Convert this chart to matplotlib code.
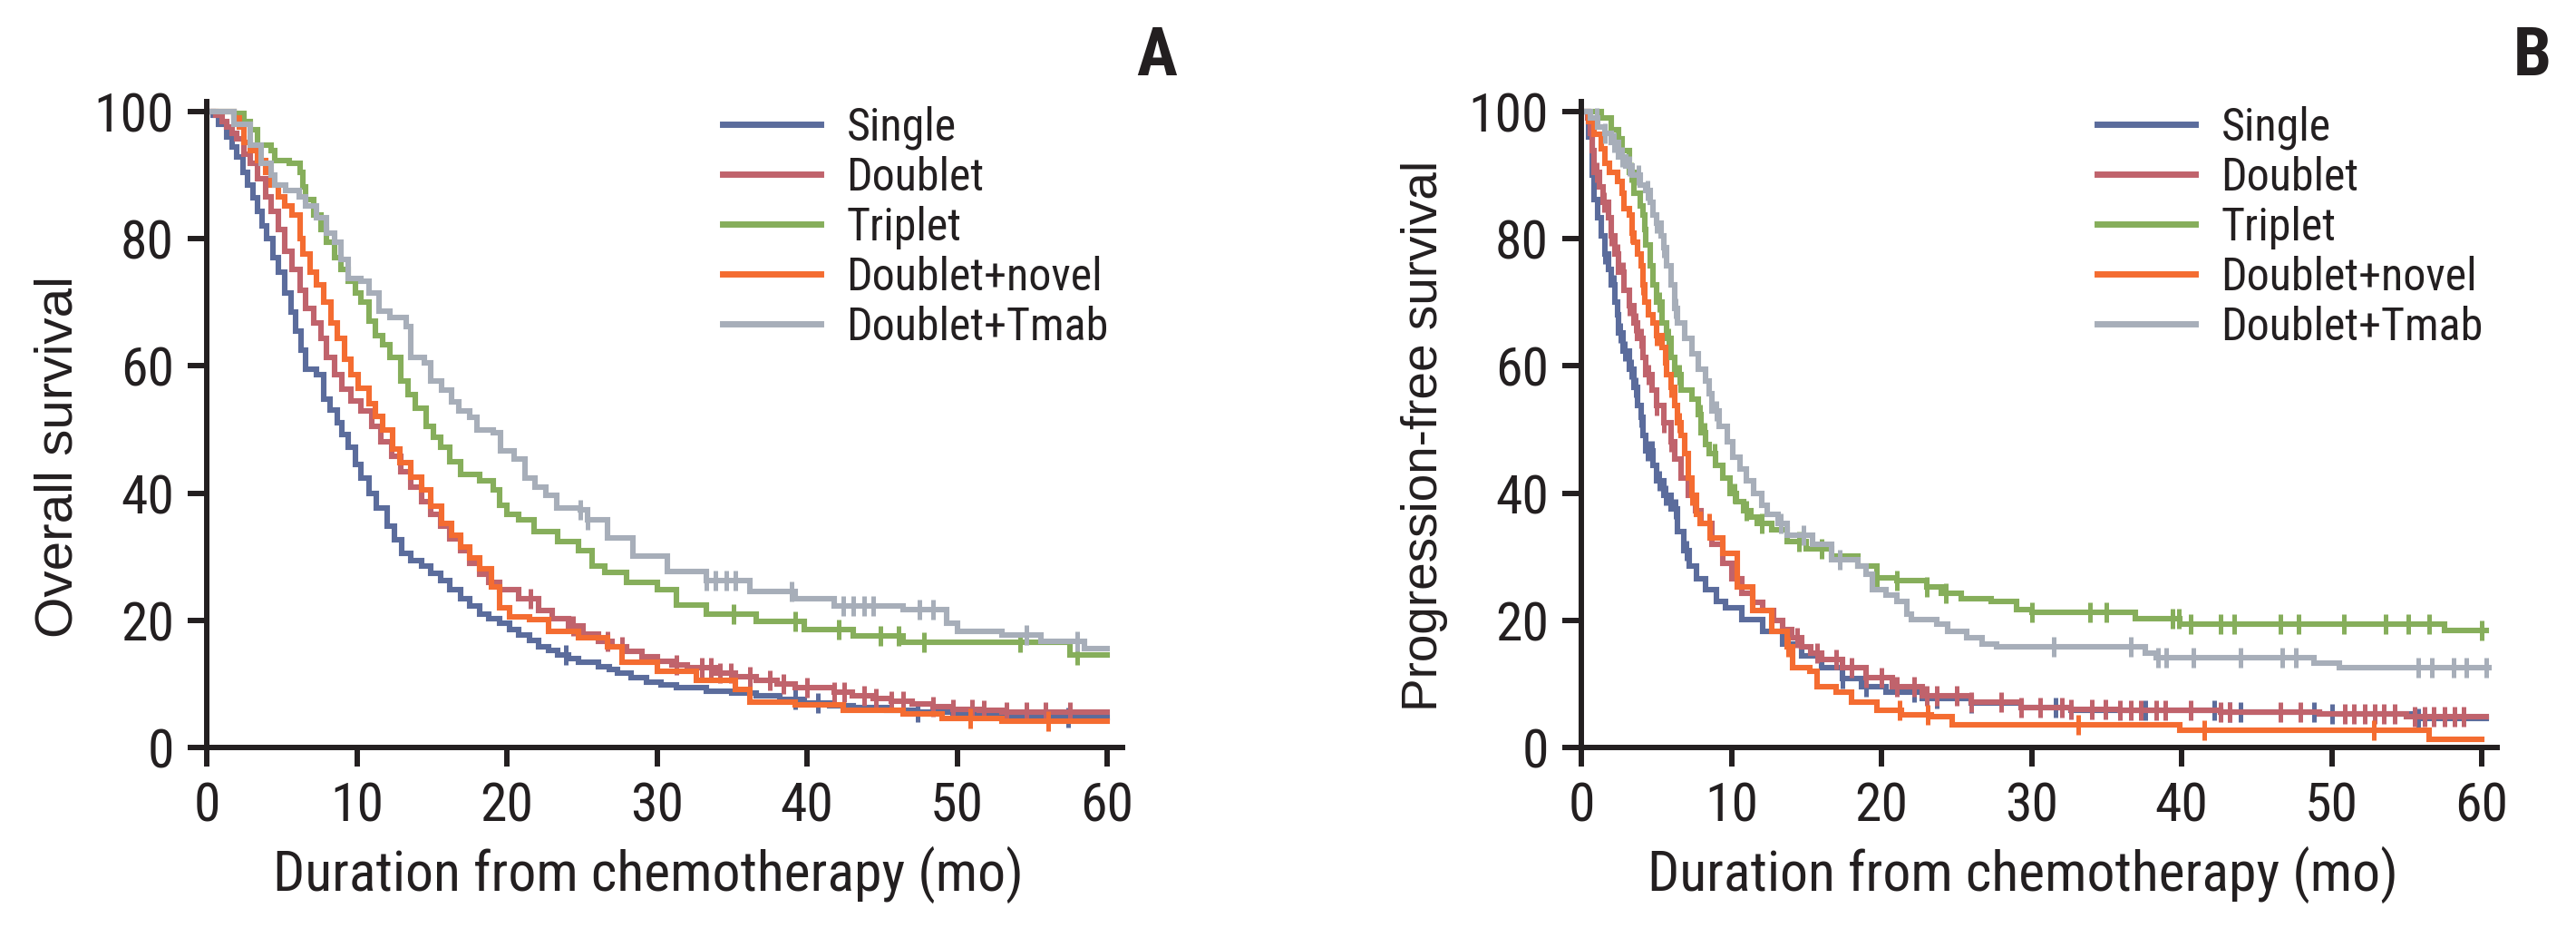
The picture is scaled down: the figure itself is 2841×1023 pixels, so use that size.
import numpy as np
import matplotlib
matplotlib.use("Agg")
import matplotlib.pyplot as plt
from matplotlib import font_manager

# fonts: narrow sans for ticks/legend, regular sans for y labels
fonts = font_manager.fontManager.ttflist
names = {f.name for f in fonts}
narrow, narrow_stretch = None, 'normal'
for fam in ['Liberation Sans Narrow', 'Roboto Condensed', 'Noto Sans Condensed', 'Open Sans Condensed',
            'DejaVu Sans Condensed']:
    if fam in names:
        narrow = fam
        break
if narrow is None:
    for f in fonts:
        fn = f.fname.lower()
        if 'condensed' in fn and 'bold' not in fn and 'oblique' not in fn and 'italic' not in fn and 'mono' not in fn:
            narrow, narrow_stretch = f.name, f.stretch
            break
squeeze = 1.0
if narrow is None:
    narrow = 'DejaVu Sans'
    squeeze = 0.8
regular = 'Liberation Sans' if 'Liberation Sans' in names else 'DejaVu Sans'
plt.rcParams['font.family'] = [narrow, 'DejaVu Sans']
plt.rcParams['font.stretch'] = narrow_stretch

groups = ['Single', 'Doublet', 'Triplet', 'Doublet+novel', 'Doublet+Tmab']
colors = ['#5b6c9c', '#c0636c', '#86ae5b', '#f46c31', '#a7aeb9']
ink = '#231f20'

# ---- Panel A: overall survival (months, %) ----
os_single_t = [0, 0.4, 0.8, 1.3, 1.7, 2.0, 2.4, 2.7, 3.1, 3.4, 3.7, 4.0, 4.4, 4.8, 5.2, 5.6, 5.9, 6.3, 6.6, 7.3,
               7.8, 8.2, 8.7, 9.0, 9.4, 9.9, 10.3, 10.8, 11.3, 12.0, 12.5, 13.0, 13.6, 14.3, 14.9, 15.6, 16.2, 16.9,
               17.5, 18.2, 18.8, 19.5, 20.2, 20.8, 21.5, 22.1, 22.8, 23.4, 24.1, 24.8, 26.1, 26.8, 27.4, 28.3, 29.3,
               30.3, 31.3, 33.3, 35.0, 36.6, 38.2, 39.8, 41.5, 43.1, 45.3, 47.4, 49.7, 53.0, 60.0]
os_single_s = [100, 99.5, 98, 96, 94.5, 92.8, 90.5, 88.5, 86.5, 84.3, 82, 80, 77, 74.8, 71.5, 68.5, 65.5, 62.5, 59.5, 58.6,
               54.8, 53, 51, 49.2, 47.2, 44.5, 42.3, 40, 37.7, 34.8, 32.6, 30.5, 29.4, 28.6, 27.4, 26.2, 24.8, 23.4,
               22.2, 21.0, 20.2, 19.6, 18.6, 17.7, 16.8, 15.8, 15.2, 14.6, 14.0, 13.4, 12.7, 12.2, 11.7, 11.0, 10.3,
               9.8, 9.4, 8.9, 8.5, 8.2, 7.6, 7.0, 6.6, 6.3, 5.9, 5.6, 5.1, 4.7, 4.7]
os_doublet_t = [0, 0.6, 1.0, 1.3, 1.7, 2.0, 2.5, 2.9, 3.4, 3.9, 4.3, 4.8, 5.2, 5.7, 6.2, 6.6, 7.1, 7.6, 8.0, 8.5,
                9.0, 9.6, 10.3, 11.0, 11.6, 12.3, 12.95, 13.6, 14.3, 14.9, 15.6, 16.2, 16.9, 17.5, 18.2, 18.8, 19.5,
                20.8, 22.1, 23.0, 24.1, 25.1, 26.1, 27.0, 28.0, 29.0, 30.0, 31.0, 32.0, 33.9, 35.2, 36.6, 38.0, 39.2,
                41.8, 43.0, 44.4, 45.6, 47.0, 48.4, 49.7, 51.5, 53.0, 60.0]
os_doublet_s = [100, 99.5, 98.5, 97.6, 96.6, 95.7, 93.3, 91.9, 89.5, 86.6, 84.3, 81.4, 78.1, 75.2, 71.9, 69.0, 66.7, 64.3,
                61.4, 58.6, 56.3, 54.5, 52.9, 50.5, 48.1, 45.8, 43.4, 41.0, 38.6, 36.7, 34.8, 32.8, 31.0, 29.0, 27.2,
                26.0, 24.8, 23.4, 21.5, 20.3, 19.1, 17.9, 16.7, 15.8, 15.1, 14.3, 13.6, 13.0, 12.5, 11.7, 11.1, 10.6,
                10.0, 9.4, 8.7, 8.2, 7.7, 7.3, 6.8, 6.4, 6.0, 5.8, 5.5, 5.5]
os_triplet_t = [0, 1.8, 2.5, 2.9, 3.4, 4.3, 4.55, 5.5, 6.2, 6.4, 6.6, 7.1, 7.6, 8.0, 8.5, 8.95, 9.4, 9.9, 10.3, 10.8,
                11.25, 11.7, 12.2, 12.95, 13.4, 13.9, 14.6, 15.1, 15.6, 16.2, 16.9, 18.2, 19.1, 19.5, 20.0, 20.8, 21.8,
                23.4, 24.75, 25.7, 26.5, 28.0, 30.0, 31.3, 33.3, 36.6, 39.8, 43.1, 46.4, 57.5, 60.0]
os_triplet_s = [100, 99.7, 98.5, 97.1, 94.7, 93.8, 92.3, 91.9, 90.4, 88.1, 86.2, 83.8, 81.4, 79.5, 77.1, 75.2, 73.3, 71.4,
                70.0, 67.1, 64.8, 63.3, 61.4, 57.6, 55.5, 53.4, 50.5, 48.8, 47.2, 45.0, 42.9, 41.9, 40.5, 38.1, 36.7,
                35.8, 33.9, 32.4, 31.0, 28.6, 27.5, 26.0, 24.8, 22.4, 21.0, 19.8, 18.6, 17.5, 16.5, 14.6, 14.6]
os_novel_t = [0, 1.8, 2.2, 2.5, 2.9, 3.4, 3.9, 4.3, 4.8, 5.2, 5.7, 6.2, 6.4, 6.9, 7.3, 7.8, 8.25, 8.7, 9.2, 9.6,
              10.1, 10.8, 11.25, 11.7, 12.4, 12.9, 13.6, 14.3, 14.95, 15.65, 16.3, 16.9, 17.5, 18.2, 19.0, 19.5,
              20.2, 21.5, 22.8, 24.75, 26.7, 27.7, 30.0, 32.6, 35.2, 36.2, 39.2, 42.4, 46.4, 49.0, 53.0, 60.0]
os_novel_s = [100, 99, 97.6, 95.2, 93.8, 92.3, 90.4, 88.5, 86.6, 85.2, 83.8, 80.0, 77.6, 74.8, 72.8, 70.0, 66.7, 64.3,
              61.0, 58.6, 56.5, 54.0, 52.0, 50.0, 47.0, 44.8, 42.5, 40.5, 38.0, 35.3, 33.4, 31.5, 29.8, 28.1, 25.3,
              22.0, 20.5, 20.1, 18.2, 17.2, 15.8, 13.4, 12.0, 10.6, 9.1, 7.2, 6.75, 5.8, 5.3, 4.6, 4.1, 4.1]
os_tmab_t = [0, 1.8, 2.9, 3.6, 4.3, 4.55, 5.24, 6.17, 6.6, 7.3, 8.0, 8.5, 8.95, 9.4, 10.3, 10.8, 11.5, 12.2, 13.3,
             13.6, 14.5, 14.95, 15.65, 16.3, 16.8, 17.5, 18.0, 19.1, 19.6, 20.5, 21.2, 21.9, 22.6, 23.3, 24.9, 25.4,
             26.7, 28.4, 30.7, 33.3, 36.2, 39.2, 41.8, 46.4, 49.3, 50.0, 53.0, 55.6, 58.5, 60.0]
os_tmab_s = [100, 98, 94.7, 91.9, 90, 88.5, 87.6, 86.6, 85.2, 83.3, 80.9, 79.5, 76.7, 73.8, 73.3, 71.4, 68.6, 67.6, 66.2,
             61.4, 60.5, 57.6, 56.2, 54.3, 52.9, 51.9, 50.0, 49.5, 46.7, 45.3, 42.4, 41.0, 39.6, 37.7, 37.4, 35.8,
             32.9, 30.1, 27.7, 26.2, 24.6, 23.4, 22.2, 21.7, 19.6, 18.2, 17.7, 16.7, 15.5, 15.5]

os_cens_single = [23.9, 39.2, 40.7, 47.4, 57.4]
os_cens_doublet = [21.6, 24.4, 26.7, 27.7, 31.3, 33.0, 33.6, 34.2, 34.9, 36.2, 37.5, 38.4, 40.0, 41.8, 42.5, 43.8,
                   44.6, 45.6, 46.4, 48.4, 49.7, 51.0, 51.8, 53.3, 54.6, 55.9, 57.5]
os_cens_triplet = [35.1, 39.2, 42.1, 44.9, 46.1, 47.8, 54.2, 58.0]
os_cens_novel = [50.9, 56.1]
os_cens_tmab = [24.9, 25.4, 33.3, 33.9, 34.6, 35.2, 39.0, 42.4, 43.1, 43.8, 44.4, 47.5, 48.4, 54.6, 58.0]

# ---- Panel B: progression-free survival ----
pfs_single_t = [0, 0.5, 0.75, 0.86, 1.1, 1.3, 1.56, 1.79, 2.0, 2.25, 2.4, 2.5, 2.8, 3.2, 3.5, 3.76, 4.0, 4.1, 4.3,
                4.8, 5.0, 5.5, 6.0, 6.4, 6.8, 7.2, 7.7, 8.3, 9.0, 9.6, 10.7, 12.1, 13.4, 14.7, 16.0, 17.4, 18.7,
                20.3, 22.7, 26.0, 29.3, 32.6, 42.6, 49.2, 55.8, 60.3]
pfs_single_s = [100, 96, 90, 86.2, 83.3, 80.5, 77.6, 75.2, 72.8, 70.0, 68.1, 65.2, 62.4, 59.5, 56.7, 53.8, 51.9, 49.1,
                46.7, 44.3, 41.9, 39.6, 37.5, 34, 31, 28.5, 26.5, 24.8, 23, 22, 20.1, 18.2, 16.3, 14.4, 12.5, 10.8,
                9.6, 8.65, 7.7, 7.0, 6.3, 5.8, 5.6, 5.3, 4.6, 4.6]
pfs_doublet_t = [0, 0.4, 0.63, 0.75, 0.86, 1.2, 1.45, 1.8, 2.0, 2.25, 2.5, 2.85, 3.2, 3.5, 3.76, 4.1, 4.3, 4.7, 5.0,
                 5.5, 5.96, 6.2, 6.65, 7.1, 7.6, 8.0, 8.7, 9.4, 10.0, 10.7, 11.4, 12.1, 12.8, 13.4, 14.0, 14.7, 15.3,
                 16.0, 17.4, 19.0, 20.7, 22.7, 26.0, 29.3, 32.6, 35.9, 42.6, 49.2, 55.0, 60.3]
pfs_doublet_s = [100, 99, 96.6, 93.8, 90.4, 88.1, 85.7, 83.3, 80.5, 77.6, 74.8, 71.9, 69.5, 66.7, 64.3, 61.4, 58.6, 56.2,
                 53.8, 51.0, 48.1, 45.3, 42.4, 39.6, 37.2, 35.3, 32, 29, 26.5, 24.3, 22.8, 21.5, 20.0, 18.6, 17.2,
                 15.8, 14.8, 13.9, 12.5, 11.0, 9.6, 8.2, 7.2, 6.3, 6.0, 5.8, 5.6, 5.3, 4.85, 4.85]
pfs_triplet_t = [0, 0.63, 1.3, 2.0, 2.5, 2.7, 3.2, 3.5, 3.9, 4.1, 4.2, 4.3, 4.6, 4.8, 5.0, 5.4, 5.7, 5.96, 6.2, 6.65,
                 7.35, 7.8, 8.0, 8.3, 8.5, 8.97, 9.4, 9.9, 10.35, 10.8, 11.3, 11.7, 12.7, 13.7, 15.0, 16.7, 18.4,
                 19.7, 21.0, 23.0, 24.0, 25.3, 27.3, 29.0, 30.0, 36.9, 39.9, 57.5, 60.3]
pfs_triplet_s = [100, 100, 99.0, 97.1, 95.7, 93.8, 90.4, 87.1, 85.2, 83.8, 81.4, 79.0, 75.7, 72.8, 70.0, 66.7, 64.3,
                 61.4, 58.6, 56.2, 54.8, 52.4, 49.5, 47.6, 46.2, 44.3, 42.4, 40.0, 38.6, 37.2, 36.2, 35.3, 34.3,
                 32.4, 31.2, 30.1, 28.6, 26.7, 26.2, 25.3, 24.3, 23.4, 22.9, 21.7, 21.3, 20.3, 19.4, 18.4, 18.4]
pfs_novel_t = [0, 0.5, 0.86, 1.3, 1.56, 1.9, 2.4, 2.7, 2.85, 3.2, 3.4, 3.5, 3.76, 4.0, 4.1, 4.2, 4.45, 4.8, 5.0, 5.4,
               5.6, 5.7, 5.96, 6.2, 6.4, 6.65, 6.9, 7.1, 7.35, 7.7, 7.9, 8.6, 9.4, 10.4, 11.4, 12.7, 13.7, 14.05,
               15.2, 15.7, 17.0, 18.0, 19.7, 21.3, 23.3, 24.7, 39.9, 56.5, 60.0]
pfs_novel_s = [100, 98.5, 96.5, 94.2, 91.9, 90.4, 89.0, 87.1, 84.7, 83.8, 80.9, 79.5, 77.6, 75.7, 72.8, 70.0, 68.1,
               66.7, 64.8, 62.9, 60.5, 58.6, 56.7, 53.8, 51.0, 49.1, 46.2, 42.4, 39.6, 36.7, 35.3, 33, 30.5, 25.3,
               21.5, 18.2, 15.8, 12.5, 12.0, 9.6, 8.65, 7.2, 5.8, 5.1, 4.85, 3.5, 2.7, 1.3, 1.3]
pfs_tmab_t = [0, 0.63, 1.1, 1.56, 2.0, 2.5, 2.95, 3.4, 3.9, 4.3, 4.6, 4.8, 5.0, 5.3, 5.5, 5.7, 5.96, 6.2, 6.4, 6.9,
              7.35, 7.8, 8.3, 8.5, 8.7, 9.2, 9.7, 10.1, 10.6, 11.0, 11.5, 12.0, 12.4, 13.1, 13.7, 15.4, 16.7, 18.4,
              19.0, 19.4, 20.3, 21.0, 21.7, 22.0, 23.7, 24.4, 25.7, 26.7, 27.7, 37.6, 38.3, 48.8, 50.5, 60.5]
pfs_tmab_s = [100, 99.0, 97.6, 96.6, 95.2, 92.8, 91.4, 90.0, 88.5, 87.6, 85.7, 83.8, 82.4, 80.5, 78.6, 75.7, 72.8,
              69.0, 66.7, 64.3, 61.9, 59.5, 57.6, 55.7, 52.9, 50.5, 48.1, 45.7, 43.8, 41.9, 40.0, 38.1, 36.7, 35.3,
              33.4, 32.0, 29.6, 28.6, 27.2, 24.8, 23.9, 22.9, 21.0, 20.1, 19.4, 18.2, 17.2, 16.3, 15.8, 14.8, 14.1,
              13.2, 12.5, 12.5]

pfs_cens_single = [1.6, 2.2, 2.6, 2.9, 3.3, 3.6, 4.0, 4.4, 4.7, 5.2, 5.6, 6.3, 7.0, 17.4, 19.0, 22.2, 23.7, 26.0,
                   31.6, 37.6, 42.2, 43.2, 43.9, 48.8, 50.0, 55.8]
pfs_cens_doublet = [1.0, 1.5, 2.0, 2.4, 2.8, 3.2, 3.6, 4.0, 4.5, 5.0, 5.5, 6.0, 14.4, 15.7, 17.0, 18.0, 19.0, 20.0,
                    21.0, 22.2, 23.0, 23.7, 25.0, 26.0, 28.0, 29.3, 30.6, 32.0, 32.6, 34.0, 34.9, 35.9, 36.6, 37.3,
                    38.3, 38.9, 40.6, 42.6, 43.2, 46.6, 47.9, 50.9, 51.5, 52.2, 52.9, 53.5, 54.2, 55.5, 56.2, 56.8,
                    57.5, 58.2, 58.8]
pfs_cens_triplet = [2.5, 3.3, 4.2, 5.2, 5.8, 6.5, 7.9, 8.2, 8.9, 10.2, 11.0, 12.0, 14.5, 16.0, 19.7, 21.0, 23.0,
                    24.3, 30.0, 33.9, 35.0, 39.4, 39.8, 40.6, 42.6, 43.5, 46.6, 47.8, 50.8, 53.6, 55.1, 56.5, 60.0]
pfs_cens_novel = [3.4, 4.1, 5.0, 5.6, 6.0, 6.5, 7.4, 8.5, 13.8, 21.2, 23.1, 33.1, 41.5, 52.8]
pfs_cens_tmab = [1.0, 1.6, 2.2, 2.7, 3.2, 3.8, 4.4, 5.0, 5.5, 6.3, 9.0, 13.3, 14.8, 17.2, 31.5, 36.6, 38.4, 39.0,
                 40.8, 43.9, 46.7, 47.6, 55.8, 56.7, 58.1, 59.0, 60.3]

os_curves = [(os_single_t, os_single_s), (os_doublet_t, os_doublet_s), (os_triplet_t, os_triplet_s),
             (os_novel_t, os_novel_s), (os_tmab_t, os_tmab_s)]
os_cens = [os_cens_single, os_cens_doublet, os_cens_triplet, os_cens_novel, os_cens_tmab]
pfs_curves = [(pfs_single_t, pfs_single_s), (pfs_doublet_t, pfs_doublet_s), (pfs_triplet_t, pfs_triplet_s),
              (pfs_novel_t, pfs_novel_s), (pfs_tmab_t, pfs_tmab_s)]
pfs_cens = [pfs_cens_single, pfs_cens_doublet, pfs_cens_triplet, pfs_cens_novel, pfs_cens_tmab]

W, H = 2841, 1023
fig = plt.figure(figsize=(W / 100, H / 100), dpi=100)


def km_panel(ax, curves, cens, ylabel, ylab_size, ylab_x, ylab_y):
    lines = []
    for (t, s), c, col, name in zip(curves, cens, colors, groups):
        t = np.asarray(t, float)
        s = np.asarray(s, float)
        ln, = ax.step(t, s, where='post', color=col, lw=4.4, label=name, solid_joinstyle='miter')
        lines.append(ln)
        # censor marks sit on the curve
        idx = np.searchsorted(t, c, side='right') - 1
        ax.plot(c, s[idx], ls='none', marker='|', ms=16, mew=3.6, color=col)
    ax.set_xlim(0, 60 * 1010 / 993)
    ax.set_ylim(0, 100 * 712 / 701)
    ax.set_xticks(range(0, 61, 10))
    ax.set_yticks(range(0, 101, 20))
    for side in ['top', 'right']:
        ax.spines[side].set_visible(False)
    for side in ['left', 'bottom']:
        ax.spines[side].set_linewidth(4.3)
        ax.spines[side].set_color(ink)
    ax.tick_params(direction='out', length=15, width=4.3, color=ink, labelcolor=ink,
                   labelsize=43 * squeeze, pad=11)
    ax.set_xlabel('Duration from chemotherapy (mo)', fontsize=44.5 * squeeze, color=ink)
    ax.xaxis.set_label_coords(0.482, -0.153)
    ax.set_ylabel(ylabel, fontsize=ylab_size, color=ink, family=[regular, 'DejaVu Sans'], fontstretch='normal')
    ax.yaxis.set_label_coords(ylab_x, ylab_y)
    leg = ax.legend(handles=lines, loc='upper left', bbox_to_anchor=(0.5634, 0.994), frameon=False,
                    fontsize=36 * squeeze, handlelength=2.16 / squeeze, handletextpad=0.57 / squeeze,
                    labelspacing=0.14, borderpad=0, borderaxespad=0)
    for h in leg.get_lines():
        h.set_linewidth(5)
    for tx in leg.get_texts():
        tx.set_color(ink)


axA = fig.add_axes([228 / W, 1 - 824 / H, 1010 / W, 712 / H])
km_panel(axA, os_curves, os_cens, 'Overall survival', 42, -0.135, 0.45)
axB = fig.add_axes([1744 / W, 1 - 824 / H, 1010 / W, 712 / H])
km_panel(axB, pfs_curves, pfs_cens, 'Progression-free survival', 39.5, -0.146, 0.483)

fig.text(1276 / W, 1 - 83 / H, 'A', fontsize=54, fontweight='bold', ha='center', va='baseline', color=ink)
fig.text(2793 / W, 1 - 83 / H, 'B', fontsize=54, fontweight='bold', ha='center', va='baseline', color=ink)

fig.savefig('out.png', dpi=100, facecolor='white')
